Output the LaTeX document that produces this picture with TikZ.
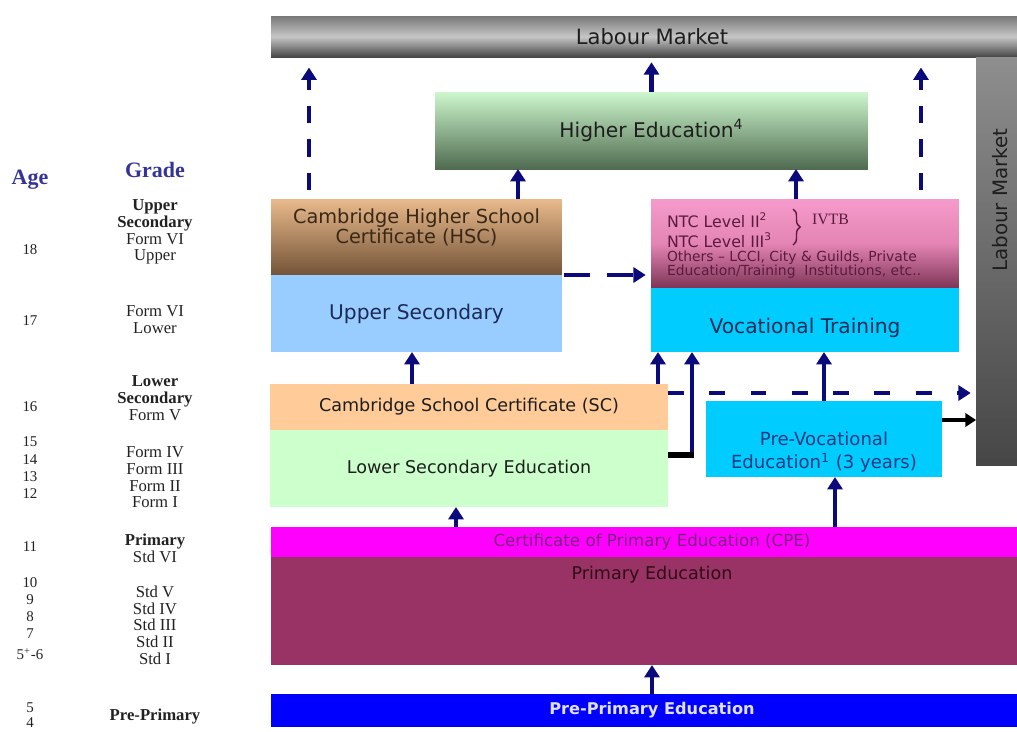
\documentclass[tikz,border=0pt]{standalone}
\usepackage{fontspec}
\setmainfont{DejaVu Sans}
\newfontfamily\agefont{Liberation Serif}
\usepackage{xcolor}
\usepackage{tikz}
\usetikzlibrary{arrows.meta,positioning,decorations.pathreplacing}
\definecolor{arrnavy}{HTML}{0A0A7A}
\definecolor{lmmid}{HTML}{787878}
\definecolor{lmlight}{HTML}{C6C6C6}
\definecolor{lmdark}{HTML}{464646}
\definecolor{lmside}{HTML}{8E8E8E}
\definecolor{hetop}{HTML}{CDF7CD}
\definecolor{hebot}{HTML}{4F6B50}
\definecolor{hsctop}{HTML}{E9BA8C}
\definecolor{hscbot}{HTML}{735338}
\definecolor{upsecfill}{HTML}{99CCFF}
\definecolor{ntctop}{HTML}{F59BCB}
\definecolor{ntcmid}{HTML}{E384B4}
\definecolor{ntcbot}{HTML}{7E3456}
\definecolor{vocfill}{HTML}{00CCFF}
\definecolor{scfill}{HTML}{FFCC99}
\definecolor{lowfill}{HTML}{CCFFCC}
\definecolor{cpefill}{HTML}{FF00FF}
\definecolor{primfill}{HTML}{993366}
\definecolor{prepfill}{HTML}{0000FF}
\definecolor{headblue}{HTML}{333399}
\definecolor{agetext}{HTML}{222222}
\definecolor{darktext}{HTML}{1E1E1E}
\definecolor{navytext}{HTML}{1B2B55}
\definecolor{prevtext}{HTML}{1A3A80}
\definecolor{ntctext}{HTML}{5C1A40}
\definecolor{cpetext}{HTML}{7A2480}
\definecolor{primtext}{HTML}{2E0E14}
\definecolor{preptext}{HTML}{E0E0FF}
\definecolor{hsctext}{HTML}{3A2816}

\begin{document}
\begin{tikzpicture}[
    x=0.02cm,y=-0.02cm,
    every node/.style={inner sep=0pt,outer sep=0pt,align=center},
    box/.style={rectangle,font=\fontsize{10}{12}\selectfont,text=darktext},
    agecol/.style={font=\agefont\fontsize{8.5}{9.5}\selectfont,text=agetext},
    gradecol/.style={font=\agefont\fontsize{9.5}{9.5}\selectfont,text=agetext},
    head/.style={font=\agefont\bfseries\fontsize{12.5}{14}\selectfont,text=headblue},
    ntcline/.style={anchor=west,font=\fontsize{9}{10}\selectfont,text=ntctext},
    arr/.style={-{Triangle[length=7pt,width=8.5pt]},line width=2.5pt,color=arrnavy},
    darr/.style={arr,dash pattern=on 10pt off 9pt},
    blkarr/.style={-{Triangle[length=6pt,width=7.5pt]},line width=2.3pt,color=black},
    blkline/.style={line width=3pt,color=black}
  ]
    \useasboundingbox (0,0) rectangle (1017,731);
    % labour market
    \node[box,minimum width=15.24cm,minimum height=0.82cm,top color=lmmid,bottom color=lmdark,middle color=lmlight,font=\fontsize{12}{14}\selectfont] (lmtop) at (652,36.5) {Labour Market};
    \node[box,minimum width=0.98cm,minimum height=8.18cm,top color=lmside,bottom color=lmdark] (lmright) at (1000.5,261.5) {};
    \node[rotate=90,font=\fontsize{11.3}{13}\selectfont,text=darktext] (lmrtext) at (1000,200) {Labour Market};
    % tertiary and upper secondary
    \node[box,minimum width=8.66cm,minimum height=1.54cm,top color=hetop,bottom color=hebot,font=\fontsize{11.5}{13}\selectfont] (higher) at (651.5,130.5) {Higher Education\textsuperscript{4}};
    \node[box,minimum width=5.82cm,minimum height=1.52cm,top color=hsctop,bottom color=hscbot,label={[anchor=center,yshift=-16pt,font=\fontsize{11}{11.3}\selectfont,text=hsctext]north:{Cambridge Higher School\\Certificate (HSC)}}] (hsc) at (416.5,237) {};
    \node[box,minimum width=5.82cm,minimum height=1.54cm,fill=upsecfill,font=\fontsize{11.5}{13}\selectfont,text=navytext] (upsec) at (416.5,313.5) {Upper Secondary};
    \node[box,minimum width=6.16cm,minimum height=1.78cm,top color=ntctop,bottom color=ntcbot,middle color=ntcmid] (ntc) at (805,243.5) {};
    \node[ntcline] (ntc2) at (667,220) {NTC Level II\textsuperscript{2}};
    \node[ntcline] (ntc3) at (667,240) {NTC Level III\textsuperscript{3}};
    \draw[ntctext,line width=0.8pt,decorate,decoration={brace,amplitude=4pt}] (793,209) -- (793,245);
    \node[anchor=west,font=\agefont\fontsize{9}{10}\selectfont,text=ntctext] (ivtb) at (812,219) {IVTB};
    \node[anchor=west,align=left,font=\fontsize{7.9}{8.1}\selectfont,text=ntctext] (others) at (667,265) {Others -- LCCI, City \& Guilds, Private\\Education/Training\ \ Institutions, etc..};
    \node[box,minimum width=6.16cm,minimum height=1.28cm,fill=vocfill,label={[yshift=-4.5pt,font=\fontsize{11.5}{13}\selectfont,text=navytext]center:Vocational Training}] (voc) at (805,320) {};
    % lower secondary
    \node[box,minimum width=7.96cm,minimum height=0.92cm,fill=scfill] (sc) at (469,407) {Cambridge School Certificate (SC)};
    \node[box,minimum width=7.96cm,minimum height=1.54cm,fill=lowfill] (lowsec) at (469,468.5) {Lower Secondary Education};
    \node[box,minimum width=4.72cm,minimum height=1.52cm,fill=vocfill,label={[anchor=center,yshift=-7.4pt,font=\fontsize{10.3}{13}\selectfont,text=prevtext]center:{Pre-Vocational\\Education\textsuperscript{1} (3 years)}}] (prevoc) at (824,439) {};
    % primary
    \node[box,minimum width=15.24cm,minimum height=0.6cm,fill=cpefill,font=\fontsize{9.5}{11}\selectfont,text=cpetext] (cpe) at (652,542) {Certificate of Primary Education (CPE)};
    \node[box,minimum width=15.24cm,minimum height=2.16cm,fill=primfill,label={[anchor=center,yshift=-10.2pt,font=\fontsize{10}{12}\selectfont,text=primtext]north:Primary Education}] (primary) at (652,611) {};
    \node[box,minimum width=15.24cm,minimum height=0.66cm,fill=prepfill,font=\fontsize{9.2}{11}\selectfont\bfseries,text=preptext] (preprim) at (652,710.5) {Pre-Primary Education};
    % age and grade columns
    \node[head] (ageh) at (30,180) {Age};
    \node[head] (gradeh) at (155,170) {Grade};
    \node[agecol] (a18) at (30,250) {18};
    \node[agecol] (a17) at (30,321) {17};
    \node[agecol] (a16) at (30,407) {16};
    \node[agecol] (a15) at (30,442) {15};
    \node[agecol] (a14) at (30,460) {14};
    \node[agecol] (a13) at (30,477) {13};
    \node[agecol] (a12) at (30,494) {12};
    \node[agecol] (a11) at (30,547) {11};
    \node[agecol] (a10) at (30,583) {10};
    \node[agecol] (a9) at (30,600) {9};
    \node[agecol] (a8) at (30,617) {8};
    \node[agecol] (a7) at (30,634) {7};
    \node[agecol] (a6) at (30,654) {5\textsuperscript{+}-6};
    \node[agecol] (a5) at (30,708) {5};
    \node[agecol] (a4) at (30,723) {4};
    \node[gradecol] (g1) at (155,232) {\textbf{Upper}\\\textbf{Secondary}\\Form VI\\Upper};
    \node[gradecol] (g2) at (155,319.5) {Form VI\\Lower};
    \node[gradecol] (g3) at (155,398) {\textbf{Lower}\\\textbf{Secondary}\\Form V};
    \node[gradecol] (g4) at (155,477.5) {Form IV\\Form III\\Form II\\Form I};
    \node[gradecol] (g5) at (155,548.5) {\textbf{Primary}\\Std VI};
    \node[gradecol] (g6) at (155,625) {Std V\\Std IV\\Std III\\Std II\\Std I};
    \node[gradecol] (g7) at (155,716) {\textbf{Pre-Primary}};
    % arrows
    \draw[darr,shorten <=5pt,shorten >=6pt] (309,0 |- hsc.north) -- (309,0 |- lmtop.south);
    \draw[darr,shorten <=5pt,shorten >=6pt] (921,0 |- ntc.north) -- (921,0 |- lmtop.south);
    \draw[arr,shorten >=3pt] (higher.north) -- (higher.north |- lmtop.south);
    \draw[arr] (518,0 |- hsc.north) -- (518,0 |- higher.south);
    \draw[arr] (796,0 |- ntc.north) -- (796,0 |- higher.south);
    \draw[darr,dash pattern=on 15pt off 9.5pt,shorten <=1pt,shorten >=3pt] (hsc.south east) -- (hsc.south east -| ntc.west);
    \draw[arr] (412,0 |- sc.north) -- (412,0 |- upsec.south);
    \draw[arr] (658,0 |- sc.north) -- (658,0 |- voc.south);
    \draw[arr] (692,455) coordinate (kink) -- (kink |- voc.south);
    \draw[blkline] (lowsec.east |- kink) -- ([xshift=1.2pt]kink);
    \draw[darr,dash pattern=on 9pt off 14.5pt,shorten >=3pt] (sc.east |- 0,393) -- (lmright.west |- 0,393);
    \draw[arr] (prevoc.north) -- (prevoc.north |- voc.south);
    \draw[blkarr] (prevoc.east |- 0,420) -- (lmright.west |- 0,420);
    \draw[arr] (456,0 |- cpe.north) -- (456,0 |- lowsec.south);
    \draw[arr] (835,0 |- cpe.north) -- (835,0 |- prevoc.south);
    \draw[arr] (preprim.north) -- (preprim.north |- primary.south);
\end{tikzpicture}
\end{document}
